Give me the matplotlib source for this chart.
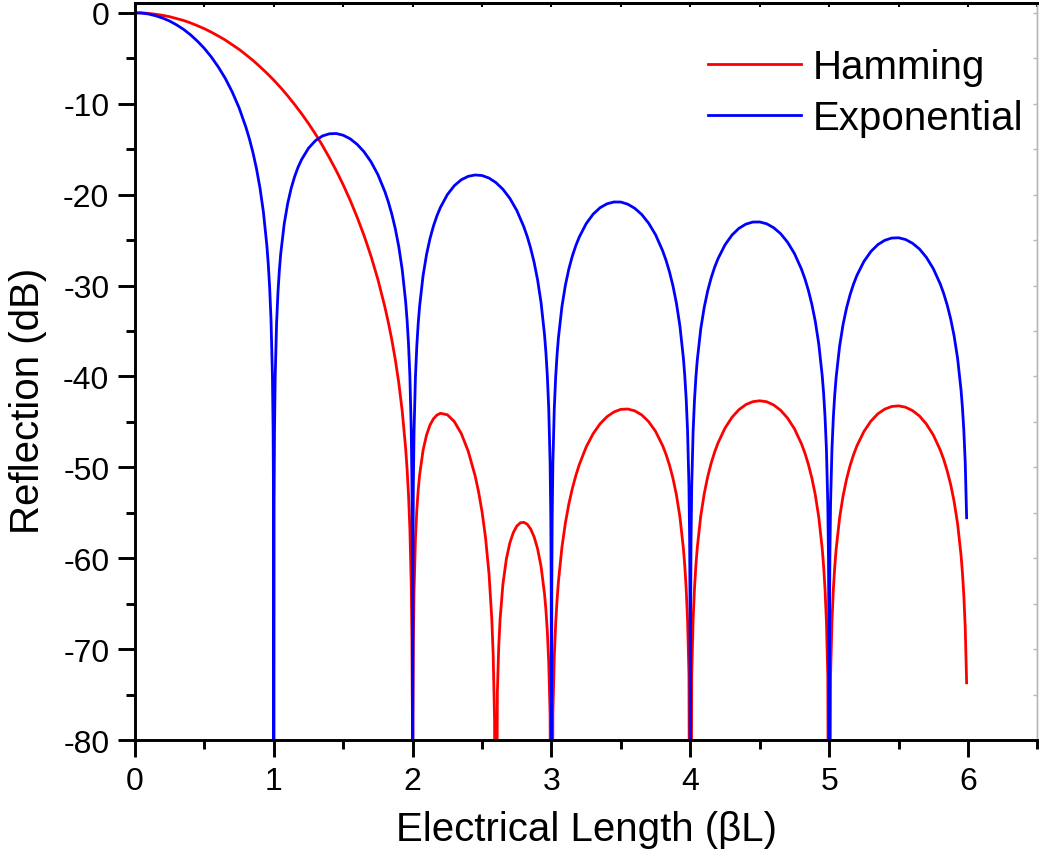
import matplotlib
matplotlib.use("Agg")
import matplotlib.pyplot as plt
from matplotlib.ticker import MultipleLocator

plt.rcParams['font.family'] = ['Liberation Sans', 'DejaVu Sans']
plt.rcParams['axes.unicode_minus'] = False

# exponential taper, reflection in dB (nulls pushed below the axis bottom)
x_exp = [0, 0.05, 0.10, 0.15, 0.20, 0.25, 0.30, 0.35, 0.40, 0.45, 0.50, 0.55, 0.60, 0.65, 0.70, 0.75, 0.80, 0.825, 0.85, 0.875, 0.90, 0.925, 0.95, 0.96, 0.97, 0.98, 0.99, 0.995, 0.998, 1.0,
         1.002, 1.005, 1.01, 1.02, 1.03, 1.04, 1.05, 1.075, 1.10, 1.125, 1.15, 1.175, 1.20, 1.25, 1.30, 1.35, 1.40, 1.45, 1.50, 1.55, 1.60, 1.65, 1.70, 1.75, 1.80, 1.825, 1.85, 1.875, 1.90, 1.925, 1.95, 1.96, 1.97, 1.98, 1.99, 1.995, 1.998, 2.0,
         2.002, 2.005, 2.01, 2.02, 2.03, 2.04, 2.05, 2.075, 2.10, 2.125, 2.15, 2.175, 2.20, 2.25, 2.30, 2.35, 2.40, 2.45, 2.50, 2.55, 2.60, 2.65, 2.70, 2.75, 2.80, 2.825, 2.85, 2.875, 2.90, 2.925, 2.95, 2.96, 2.97, 2.98, 2.99, 2.995, 2.998, 3.0,
         3.002, 3.005, 3.01, 3.02, 3.03, 3.04, 3.05, 3.075, 3.10, 3.125, 3.15, 3.175, 3.20, 3.25, 3.30, 3.35, 3.40, 3.45, 3.50, 3.55, 3.60, 3.65, 3.70, 3.75, 3.80, 3.825, 3.85, 3.875, 3.90, 3.925, 3.95, 3.96, 3.97, 3.98, 3.99, 3.995, 3.998, 4.0,
         4.002, 4.005, 4.01, 4.02, 4.03, 4.04, 4.05, 4.075, 4.10, 4.125, 4.15, 4.175, 4.20, 4.25, 4.30, 4.35, 4.40, 4.45, 4.50, 4.55, 4.60, 4.65, 4.70, 4.75, 4.80, 4.825, 4.85, 4.875, 4.90, 4.925, 4.95, 4.96, 4.97, 4.98, 4.99, 4.995, 4.998, 5.0,
         5.002, 5.005, 5.01, 5.02, 5.03, 5.04, 5.05, 5.075, 5.10, 5.125, 5.15, 5.175, 5.20, 5.25, 5.30, 5.35, 5.40, 5.45, 5.50, 5.55, 5.60, 5.65, 5.70, 5.75, 5.80, 5.825, 5.85, 5.875, 5.90, 5.925, 5.95, 5.96, 5.97, 5.98, 5.99]
exp_db = [0, -0.03, -0.14, -0.33, -0.58, -0.91, -1.33, -1.82, -2.42, -3.12, -3.92, -4.86, -5.95, -7.20, -8.69, -10.45, -12.63, -13.91, -15.39, -17.13, -19.23, -21.90, -25.61, -27.63, -30.21, -33.81, -39.92, -45.98, -53.97, -120,
          -54.00, -46.07, -40.09, -34.16, -30.73, -28.32, -26.48, -23.21, -20.97, -19.31, -18.02, -16.98, -16.15, -14.89, -14.06, -13.55, -13.31, -13.28, -13.47, -13.86, -14.47, -15.29, -16.39, -17.81, -19.67, -20.81, -22.15, -23.75, -25.72, -28.27, -31.85, -33.83, -36.36, -39.92, -45.98, -52.02, -59.99, -120,
          -60.01, -52.07, -46.07, -40.09, -36.62, -34.18, -32.29, -28.92, -26.59, -24.83, -23.45, -22.33, -21.41, -20.00, -19.02, -18.37, -17.99, -17.84, -17.90, -18.18, -18.68, -19.41, -20.41, -21.74, -23.51, -24.60, -25.90, -27.46, -29.39, -31.90, -35.45, -37.41, -39.93, -43.47, -49.52, -55.55, -63.52, -120,
          -63.53, -55.58, -49.57, -43.58, -40.10, -37.64, -35.74, -32.34, -29.97, -28.18, -26.77, -25.62, -24.67, -23.19, -22.15, -21.44, -21.01, -20.81, -20.82, -21.06, -21.51, -22.19, -23.15, -24.43, -26.16, -27.23, -28.51, -30.05, -31.96, -34.46, -37.99, -39.94, -42.45, -45.98, -52.02, -58.05, -66.02, -120,
          -66.03, -58.08, -52.07, -46.07, -42.58, -40.11, -38.20, -34.78, -32.40, -30.59, -29.16, -27.99, -27.03, -25.52, -24.45, -23.71, -23.25, -23.02, -23.01, -23.21, -23.64, -24.29, -25.23, -26.49, -28.19, -29.25, -30.52, -32.05, -33.95, -36.43, -39.95, -41.89, -44.40, -47.93, -53.97, -59.99, -67.96, -120,
          -67.97, -60.01, -54.00, -48.00, -44.50, -42.03, -40.12, -36.69, -34.29, -32.48, -31.04, -29.86, -28.88, -27.36, -26.27, -25.51, -25.03, -24.78, -24.75, -24.94, -25.35, -25.98, -26.90, -28.15, -29.83, -30.89, -32.15, -33.67, -35.56, -38.03, -41.54, -43.49, -45.99, -49.52, -55.55]

# hamming taper
x_ham = [0, 0.05, 0.10, 0.15, 0.20, 0.25, 0.30, 0.35, 0.40, 0.45, 0.50, 0.55, 0.60, 0.65, 0.70, 0.75, 0.80, 0.85, 0.90, 0.95, 1.00,
         1.05, 1.10, 1.15, 1.20, 1.25, 1.30, 1.35, 1.40, 1.45, 1.50, 1.55, 1.60, 1.65, 1.70, 1.75, 1.80, 1.825, 1.85, 1.875, 1.90, 1.925, 1.95, 1.96, 1.97, 1.98, 1.99, 1.995, 1.998, 2.0,
         2.002, 2.005, 2.01, 2.02, 2.03, 2.04, 2.05, 2.075, 2.10, 2.125, 2.15, 2.175, 2.20, 2.25, 2.30, 2.35, 2.40, 2.45, 2.475, 2.50, 2.525, 2.55, 2.57, 2.58, 2.59, 2.598,
         2.61, 2.62, 2.63, 2.65, 2.675, 2.70, 2.725, 2.75, 2.775, 2.80, 2.825, 2.85, 2.875, 2.90, 2.925, 2.95, 2.96, 2.97, 2.98, 2.99, 3.0,
         3.01, 3.02, 3.03, 3.04, 3.05, 3.075, 3.10, 3.125, 3.15, 3.175, 3.20, 3.25, 3.30, 3.35, 3.40, 3.45, 3.50, 3.55, 3.60, 3.65, 3.70, 3.75, 3.80, 3.825, 3.85, 3.875, 3.90, 3.925, 3.95, 3.96, 3.97, 3.98, 3.99, 4.0,
         4.01, 4.02, 4.03, 4.04, 4.05, 4.075, 4.10, 4.125, 4.15, 4.175, 4.20, 4.25, 4.30, 4.35, 4.40, 4.45, 4.50, 4.55, 4.60, 4.65, 4.70, 4.75, 4.80, 4.825, 4.85, 4.875, 4.90, 4.925, 4.95, 4.96, 4.97, 4.98, 4.99, 5.0,
         5.01, 5.02, 5.03, 5.04, 5.05, 5.075, 5.10, 5.125, 5.15, 5.175, 5.20, 5.25, 5.30, 5.35, 5.40, 5.45, 5.50, 5.55, 5.60, 5.65, 5.70, 5.75, 5.80, 5.825, 5.85, 5.875, 5.90, 5.925, 5.95, 5.96, 5.97, 5.98, 5.99]
ham_db = [0, -0.01, -0.07, -0.16, -0.28, -0.43, -0.63, -0.84, -1.11, -1.42, -1.75, -2.13, -2.55, -2.99, -3.50, -4.02, -4.62, -5.24, -5.92, -6.64, -7.41,
          -8.24, -9.13, -10.09, -11.10, -12.18, -13.34, -14.59, -15.94, -17.37, -18.93, -20.62, -22.48, -24.50, -26.77, -29.35, -32.36, -34.07, -35.98, -38.15, -40.70, -43.83, -48.00, -50.21, -52.98, -56.78, -63.08, -69.24, -77.28, -120,
          -77.40, -69.53, -63.66, -57.92, -54.70, -52.50, -50.86, -48.13, -46.45, -45.35, -44.66, -44.25, -44.06, -44.22, -44.97, -46.28, -48.22, -50.94, -52.71, -54.91, -57.75, -61.71, -66.67, -70.66, -77.84, -120,
          -74.82, -69.72, -66.67, -62.88, -60.08, -58.32, -57.18, -56.47, -56.11, -56.05, -56.26, -56.79, -57.66, -58.97, -60.92, -63.96, -65.72, -68.06, -71.42, -77.29, -120,
          -77.01, -70.86, -67.23, -64.62, -62.57, -58.82, -56.13, -54.03, -52.34, -50.92, -49.71, -47.76, -46.30, -45.21, -44.43, -43.91, -43.62, -43.59, -43.79, -44.24, -44.98, -46.06, -47.60, -48.58, -49.77, -51.22, -53.05, -55.47, -58.92, -60.84, -63.32, -66.82, -72.83, -120,
          -72.83, -66.80, -63.28, -60.78, -58.85, -55.36, -52.91, -51.04, -49.55, -48.32, -47.30, -45.68, -44.50, -43.66, -43.10, -42.78, -42.68, -42.79, -43.14, -43.72, -44.58, -45.77, -47.40, -48.43, -49.67, -51.16, -53.03, -55.48, -58.97, -60.90, -63.40, -66.92, -72.95, -120,
          -72.95, -66.94, -63.43, -60.95, -59.03, -55.57, -53.15, -51.31, -49.84, -48.64, -47.63, -46.07, -44.93, -44.12, -43.60, -43.31, -43.24, -43.39, -43.76, -44.35, -45.24, -46.45, -48.10, -49.14, -50.39, -51.89, -53.77, -56.22, -59.71, -61.66, -64.15, -67.68, -73.71]

fig = plt.figure(figsize=(10.39, 8.53), dpi=100)
ax = fig.add_axes([0.1299, 0.1313, 0.8686, 0.8637])

ax.plot(x_ham, ham_db, color='#ff0000', lw=2.0, label='Hamming')
ax.plot(x_exp, exp_db, color='#0000ff', lw=2.0, label='Exponential')

ax.set_xlim(0, 6.5)
ax.set_ylim(-80, 1.05)
ax.xaxis.set_major_locator(MultipleLocator(1))
ax.xaxis.set_minor_locator(MultipleLocator(0.5))
ax.yaxis.set_major_locator(MultipleLocator(10))
ax.yaxis.set_minor_locator(MultipleLocator(5))

for s in ['left', 'bottom', 'top']:
    ax.spines[s].set_linewidth(2.1)
ax.spines['right'].set_linewidth(1.0)
ax.spines['right'].set_color('#b8b8b8')

ax.tick_params(which='major', direction='out', length=12, width=2.1, labelsize=23, pad=6.5)
ax.tick_params(which='minor', direction='out', length=6.5, width=2.1)

# short inward ticks on top and right
top = ax.secondary_xaxis('top')
top.xaxis.set_major_locator(MultipleLocator(1))
top.xaxis.set_minor_locator(MultipleLocator(0.5))
top.tick_params(which='both', direction='in', length=3, width=1.5, labeltop=False)
top.spines['top'].set_linewidth(2.1)
right = ax.secondary_yaxis('right')
right.yaxis.set_major_locator(MultipleLocator(10))
right.yaxis.set_minor_locator(MultipleLocator(5))
right.tick_params(which='both', direction='in', length=3, width=1.0, color='#b8b8b8', labelright=False)
right.spines['right'].set_linewidth(1.0)
right.spines['right'].set_color('#b8b8b8')

ax.set_xlabel('Electrical Length (βL)', fontsize=29)
ax.set_ylabel('Reflection (dB)', fontsize=29)
ax.xaxis.set_label_coords(0.5, -0.095)
ax.yaxis.set_label_coords(-0.097, 0.4615)

ax.legend(loc='upper left', bbox_to_anchor=(0.6349, 0.939), frameon=False, fontsize=29,
          handlelength=2.3, handletextpad=0.3, labelspacing=0.32, borderpad=0, borderaxespad=0)

fig.savefig('out.png', dpi=100)
